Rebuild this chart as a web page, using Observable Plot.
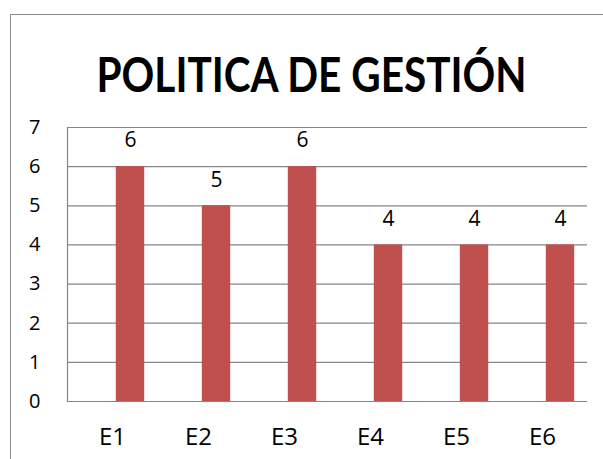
<!DOCTYPE html>
<html>
<head>
<meta charset="utf-8">
<script src="https://cdn.jsdelivr.net/npm/d3@7"></script>
<script src="https://cdn.jsdelivr.net/npm/@observablehq/plot@0.6"></script>
<style>
  html, body { margin: 0; padding: 0; background: #fff; }
  #wrap { position: relative; width: 603px; height: 459px; overflow: hidden; font-family: "Open Sans", sans-serif; }
  #border { position: absolute; left: 10px; top: 14px; width: 800px; height: 800px; border: 1px solid #8a8a8a; box-sizing: border-box; }
  #title { position: absolute; left: 0; top: 0; }
  #chart { position: absolute; left: 0; top: 110px; }
</style>
</head>
<body>
<div id="wrap">
  <div id="border"></div>
  <svg id="title" width="603" height="110"><text id="tt" x="311.5" y="92" text-anchor="middle" font-family="Lato, 'Open Sans', sans-serif" font-weight="bold" font-size="47" textLength="430" lengthAdjust="spacingAndGlyphs" fill="#000">POLITICA DE GESTIÓN</text></svg>
  <div id="chart"></div>
</div>
<script>
const categories = ["E1", "E2", "E3", "E4", "E5", "E6"];
const values = [6, 5, 6, 4, 4, 4];
const yTicks = [0, 1, 2, 3, 4, 5, 6, 7];

const data = categories.map((c, i) => ({cat: c, v: values[i]}));

const plot = Plot.plot({
  width: 603,
  height: 349,
  marginTop: 17,
  marginBottom: 58,
  marginLeft: 67,
  marginRight: 16,
  style: {fontFamily: "'Open Sans', sans-serif", background: "transparent", color: "#000"},
  x: {domain: categories, padding: 0, label: null},
  y: {domain: [0, 7], ticks: yTicks, label: null},
  marks: [
    Plot.gridY(yTicks, {stroke: "#868686", strokeOpacity: 1, strokeWidth: 1.2}),
    Plot.frame({anchor: "left", stroke: "#868686", strokeWidth: 1.2}),
    Plot.barY(data, {x: "cat", y: "v", fill: "#C0504D", insetLeft: 28.8, insetRight: 28.8, dx: 18}),
    Plot.text(data, {x: "cat", y: "v", text: d => String(d.v), dx: 18, dy: -26, fontSize: 21, fill: "#000"}),
    Plot.axisY(yTicks, {tickSize: 0, tickPadding: 27, fontSize: 20, fill: "#000", label: null}),
    Plot.axisX({tickSize: 0, tickPadding: 26, fontSize: 24, fill: "#000", label: null})
  ]
});
document.getElementById("chart").appendChild(plot);
</script>
</body>
</html>
